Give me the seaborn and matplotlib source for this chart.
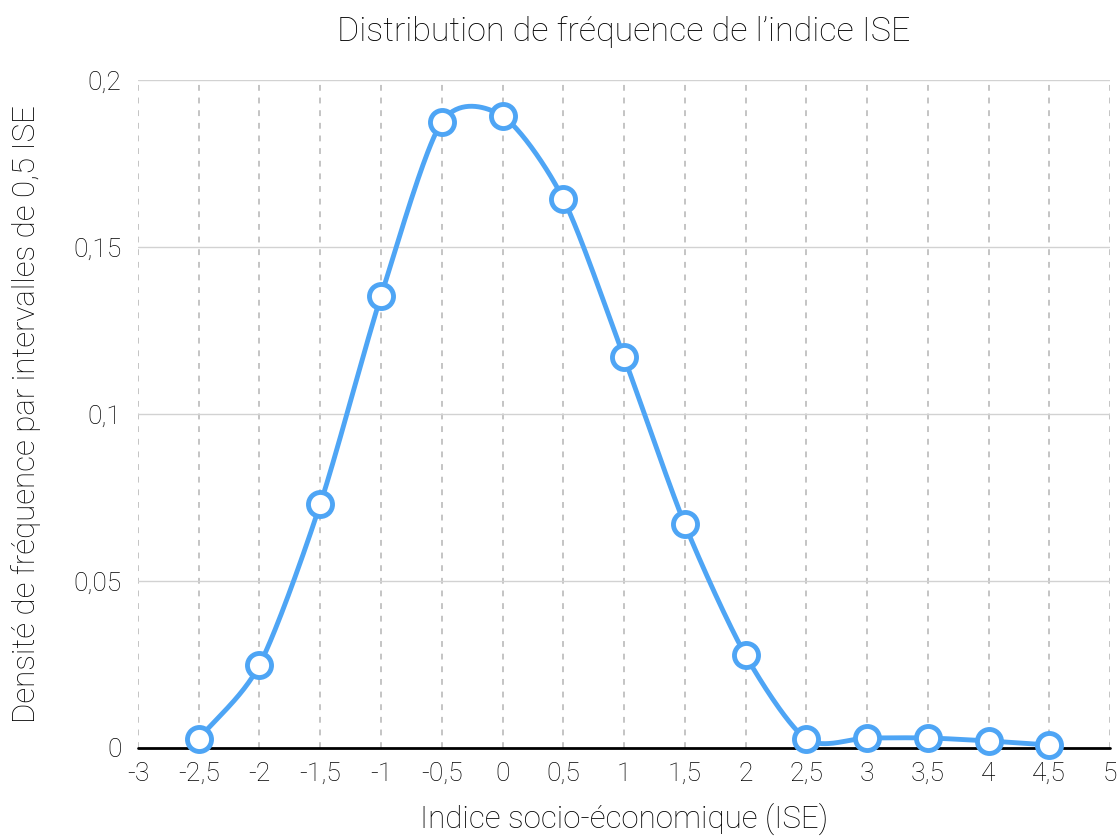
import matplotlib
matplotlib.use("Agg")
import matplotlib.pyplot as plt
import numpy as np
import pandas as pd
import seaborn as sns

# Données
ise = [-2.5, -2, -1.5, -1, -0.5, 0, 0.5, 1, 1.5, 2, 2.5, 3, 3.5, 4, 4.5]
densite = [0.0027, 0.0249, 0.073, 0.1353, 0.1874, 0.1892, 0.1644, 0.117,
           0.067, 0.0278, 0.0027, 0.003, 0.003, 0.0021, 0.0009]
x_ticks = [-3, -2.5, -2, -1.5, -1, -0.5, 0, 0.5, 1, 1.5, 2, 2.5, 3, 3.5, 4, 4.5, 5]
y_ticks = [0, 0.05, 0.1, 0.15, 0.2]

BLUE = "#4ea5f5"
TEXT = "#000000"


def catmull_rom(x, y, n=40, tension=0.8):
    """Smooth path through the points (drawing only)."""
    x = np.asarray(x, float)
    y = np.asarray(y, float)
    px = np.concatenate([[2 * x[0] - x[1]], x, [2 * x[-1] - x[-2]]])
    py = np.concatenate([[2 * y[0] - y[1]], y, [2 * y[-1] - y[-2]]])
    xs, ys = [], []
    t = np.linspace(0, 1, n, endpoint=False)
    h00 = 2 * t ** 3 - 3 * t ** 2 + 1
    h10 = t ** 3 - 2 * t ** 2 + t
    h01 = -2 * t ** 3 + 3 * t ** 2
    h11 = t ** 3 - t ** 2
    for i in range(1, len(px) - 2):
        for arr, out in ((px, xs), (py, ys)):
            p0, p1, p2, p3 = arr[i - 1], arr[i], arr[i + 1], arr[i + 2]
            m1 = tension * 0.5 * (p2 - p0)
            m2 = tension * 0.5 * (p3 - p1)
            out.extend(h00 * p1 + h10 * m1 + h01 * p2 + h11 * m2)
    xs.append(x[-1])
    ys.append(y[-1])
    return np.array(xs), np.array(ys)


def fmt(v):
    return f"{v:g}".replace(".", ",")


sns.set_style("white")
plt.rcParams["font.family"] = ["Roboto", "DejaVu Sans"]

fig = plt.figure(figsize=(11.19, 8.38), dpi=100)
ax = fig.add_axes([0.1233, 0.1074, 0.8687, 0.7971])

df = pd.DataFrame({"ISE": ise, "Densité": densite})
sx, sy = catmull_rom(ise, densite)
smooth = pd.DataFrame({"ISE": sx, "Densité": sy})

for xv in x_ticks:
    ax.axvline(xv, color="#c4c4c4", lw=1.4, ls=(0, (3, 3.5)), zorder=0)
for yv in y_ticks[1:]:
    ax.axhline(yv, color="#d2d2d2", lw=1.0, zorder=0)
ax.axhline(0, color="black", lw=2, zorder=1, clip_on=False)

sns.lineplot(data=smooth, x="ISE", y="Densité", color=BLUE, lw=3.5,
             sort=False, ax=ax, zorder=3)
sns.scatterplot(data=df, x="ISE", y="Densité", s=300, color="white",
                edgecolor=BLUE, linewidth=3.5, ax=ax, zorder=4, clip_on=False)

ax.set_xlim(-3, 5)
ax.set_ylim(0, 0.2)
ax.set_xticks(x_ticks)
ax.set_xticklabels([fmt(v) for v in x_ticks])
ax.set_yticks(y_ticks)
ax.set_yticklabels([fmt(v) for v in y_ticks])
ax.tick_params(axis="x", length=0, labelsize=19, colors=TEXT, pad=10)
ax.tick_params(axis="y", length=0, labelsize=19, colors=TEXT, pad=12)
for lab in ax.get_xticklabels() + ax.get_yticklabels():
    lab.set_fontweight("light")
for s in ax.spines.values():
    s.set_visible(False)

ax.set_xlabel("Indice socio-économique (ISE)", fontsize=22.5, fontweight="light",
              labelpad=12, color=TEXT)
ax.set_ylabel("Densité de fréquence par intervalles de 0,5 ISE", fontsize=22.5,
              fontweight="light", color=TEXT)
ax.yaxis.set_label_coords(-0.1, 0.5)
ax.set_title("Distribution de fréquence de l’indice ISE", fontsize=24.5,
             fontweight="light", pad=28, color=TEXT)

fig.savefig("out.png", dpi=100)
